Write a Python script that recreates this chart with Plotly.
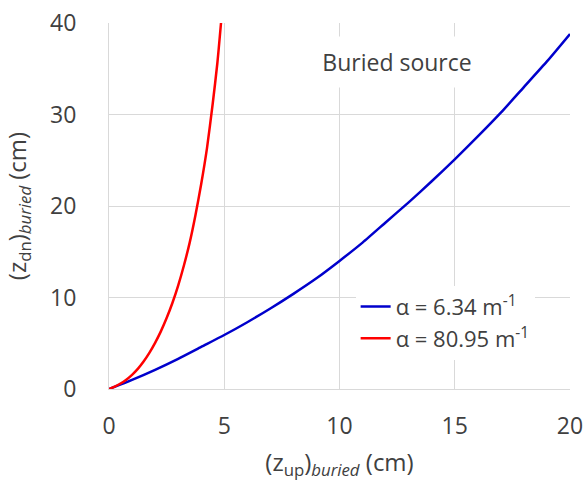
import plotly.graph_objects as go

blue_x = [0, 1, 2, 3, 4, 5, 6, 7, 8, 9, 10, 11, 12, 13, 14, 15, 16, 17, 18, 19, 20]
blue_y = [0, 1.0, 2.1, 3.3, 4.6, 5.9, 7.3, 8.8, 10.4, 12.1, 14.0, 16.0, 18.2, 20.4, 22.7, 25.1, 27.6, 30.2, 33.0, 35.8, 38.8]

red_x = [0, 0.25, 0.5, 0.75, 1.0, 1.25, 1.5, 1.75, 2.0, 2.25, 2.5, 2.75, 3.0, 3.25, 3.5, 3.75, 4.0, 4.25, 4.5, 4.7, 4.86]
red_y = [0, 0.27, 0.6, 1.02, 1.55, 2.2, 3.0, 3.95, 5.05, 6.3, 7.75, 9.4, 11.3, 13.5, 16.0, 19.0, 22.4, 26.3, 31.2, 35.6, 40.0]

x_ticks = [0, 5, 10, 15, 20]
y_ticks = [0, 10, 20, 30, 40]

fig = go.Figure()
fig.add_trace(go.Scatter(x=blue_x, y=blue_y, mode="lines", line=dict(color="#0000cc", width=2.5, shape="spline", smoothing=0.6),
                         name="\u03b1 = 6.34 m<sup>-1</sup>"))
fig.add_trace(go.Scatter(x=red_x, y=red_y, mode="lines", line=dict(color="#ff0000", width=2.5, shape="spline", smoothing=0.6),
                         name="\u03b1 = 80.95 m<sup>-1</sup>"))

font_family = "Open Sans, Liberation Sans, sans-serif"
txt = "#404040"
fig.update_layout(
    width=587, height=490,
    margin=dict(l=109, r=17, t=23, b=101),
    paper_bgcolor="white", plot_bgcolor="white",
    font=dict(family=font_family, color=txt, size=22),
    showlegend=True,
    legend=dict(x=0.535, y=0.282, xanchor="left", yanchor="top", bgcolor="white",
                font=dict(size=22, color=txt), itemwidth=30, tracegroupgap=0),
    xaxis=dict(range=[0, 20], tickvals=x_ticks, showgrid=True, gridcolor="#d9d9d9", gridwidth=1,
               zeroline=False, showline=True, linecolor="#d9d9d9", ticks="", automargin=False,
               ticklabelstandoff=16,
               tickfont=dict(size=23, color=txt),
               title=dict(text="(z<sub>up</sub>)<sub><i>buried</i></sub> (cm)", font=dict(size=24, color=txt), standoff=14)),
    yaxis=dict(range=[0, 40], tickvals=y_ticks, showgrid=True, gridcolor="#d9d9d9", gridwidth=1,
               zeroline=False, showline=True, linecolor="#d9d9d9", ticks="", automargin=False,
               ticklabelstandoff=27,
               tickfont=dict(size=23, color=txt),
               title=dict(text="(z<sub>dn</sub>)<sub><i>buried</i></sub> (cm)", font=dict(size=24, color=txt), standoff=22)),
    annotations=[dict(x=12.5, y=35.7, xref="x", yref="y", text="Buried source", showarrow=False,
                      font=dict(size=23, color=txt), bgcolor="white", width=190, height=48)],
)
fig.write_html("out.html")
